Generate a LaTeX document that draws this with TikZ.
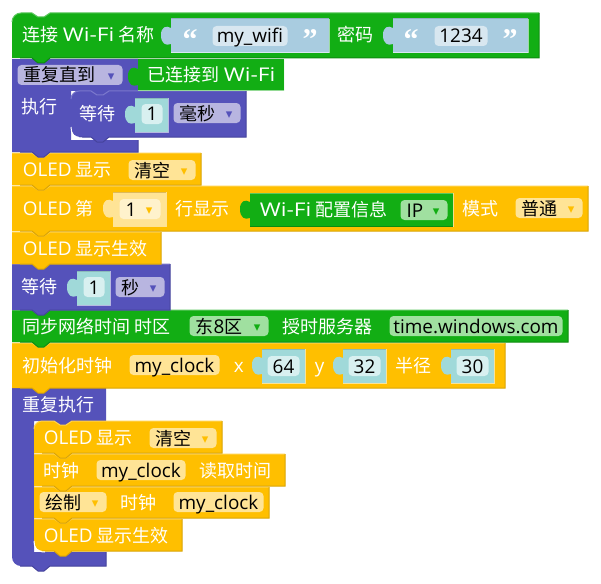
\documentclass[tikz,border=0pt]{standalone}
\usepackage{fontspec}
\usepackage{xcolor}
\setmainfont{Noto Sans CJK SC}
\newfontfamily\latnfont{Open Sans}[Scale=1.05]
\newfontfamily\widefont{Open Sans}[Scale=1.05,FakeStretch=1.2]
\newfontfamily\symfont{DejaVu Sans}
\newfontfamily\quotefont{Liberation Serif}
\newcommand{\lat}[1]{{\latnfont #1}}
\newcommand{\wifi}{{\widefont Wi-Fi}}

\definecolor{green}{HTML}{12AE14}
\definecolor{greenlight}{HTML}{5CC75E}
\definecolor{greendark}{HTML}{0E8C10}
\definecolor{greenfield}{HTML}{A0E0A0}
\definecolor{yellow}{HTML}{FFBF00}
\definecolor{yellowlight}{HTML}{FFD24D}
\definecolor{yellowdark}{HTML}{D9A406}
\definecolor{yellowfield}{HTML}{FFE496}
\definecolor{yellowpale}{HTML}{FFF2CC}
\definecolor{purple}{HTML}{5552BA}
\definecolor{purplelight}{HTML}{7A78CC}
\definecolor{purpledark}{HTML}{45439C}
\definecolor{purplefield}{HTML}{B8B5E0}
\definecolor{teal}{HTML}{A0D9D9}
\definecolor{tealfield}{HTML}{D8F0F0}
\definecolor{tealdark}{HTML}{8ABBBB}
\definecolor{blue}{HTML}{A9CCE0}
\definecolor{bluefield}{HTML}{D8E7F0}
\definecolor{bluedark}{HTML}{91B0C1}
\definecolor{yellowfielddark}{HTML}{DDB95A}

\tikzset{
  label/.style={text=white, anchor=west, inner sep=0pt, xshift=-0.7pt, text height=16pt, text depth=2pt},
  field/.style={anchor=west, inner sep=0pt, rounded corners=4pt, minimum height=20pt,
    text=black, text height=16pt, text depth=2pt, align=center},
  quote/.style={text=white, inner sep=0pt, font=\quotefont\bfseries\fontsize{30pt}{30pt}\selectfont},
}

% x0, y0, x1, y1, colour, top radius, bottom radius
\newcommand{\tile}[7]{
  \path[fill=#5] (#1,{#2+#6}) .. controls (#1,{#2+#6*0.45}) and ({#1+#6*0.45},#2) .. ({#1+#6},#2) -- ({#1+20},#2) -- ({#1+26},{#2+4})
    -- ({#1+32},{#2+4}) -- ({#1+38},#2) -- (#3,#2) -- (#3,#4) -- ({#1+38},#4) -- ({#1+32},{#4+5}) -- ({#1+26},{#4+5})
    -- ({#1+20},#4) -- ({#1+#7},#4) .. controls ({#1+#7*0.45},#4) and (#1,{#4-#7*0.45}) .. (#1,{#4-#7}) -- cycle;
  \draw[#5light] (#1,{#2+#6}) .. controls (#1,{#2+#6*0.45}) and ({#1+#6*0.45},#2) .. ({#1+#6},#2) -- ({#1+20},#2) -- ({#1+26},{#2+4})
    -- ({#1+32},{#2+4}) -- ({#1+38},#2) -- (#3,#2);
  \draw[#5dark] (#3,#2) -- (#3,#4) -- ({#1+38},#4) -- ({#1+32},{#4+5}) -- ({#1+26},{#4+5}) -- ({#1+20},#4) -- ({#1+8},#4);
}

% x0, y0, inner x, x1, header bottom, arm top, arm bottom, bottom radius
\newcommand{\loopblock}[8]{
  \path[fill=purple] (#1,#2) -- (#4,#2) -- (#4,#5) -- ({#3+38},#5) -- ({#3+32},{#5+5}) -- ({#3+26},{#5+5}) -- ({#3+20},#5)
    -- (#3,#5) -- (#3,#6) -- (#4,#6) -- (#4,#7) -- ({#1+38},#7) -- ({#1+32},{#7+5}) -- ({#1+26},{#7+5}) -- ({#1+20},#7)
    -- ({#1+#8},#7) .. controls ({#1+#8*0.45},#7) and (#1,{#7-#8*0.45}) .. (#1,{#7-#8}) -- cycle;
  \draw[purpledark] (#4,#6) -- (#4,#7) -- ({#1+38},#7) -- ({#1+32},{#7+5}) -- ({#1+26},{#7+5}) -- ({#1+20},#7) -- ({#1+8},#7);
}

% x0, y0, x1, y1, colour, colour of the top edge: a box with the tab on its left side
\newcommand{\tabbox}[6]{
  \path[fill=#5] (#1,#2) -- (#3,#2) -- (#3,#4) -- (#1,#4) -- (#1,{#2+25}) .. controls ({#1-5},{#2+27}) and ({#1-10},{#2+25}) .. ({#1-10},{#2+16})
    .. controls ({#1-10},{#2+8}) and ({#1-5},{#2+6}) .. (#1,{#2+9}) -- cycle;
  \draw[#6] (#1,#2) -- (#3,#2);
  \draw[white, opacity=0.55] (#3,#2) -- (#3,#4) -- (#1,#4);
}

% text, arrow colour
\newcommand{\dropdown}[2]{\hspace*{6pt}#1\hfill\raisebox{1.5pt}{\symfont\fontsize{13pt}{13pt}\selectfont\color{#2}▾}\hspace*{8pt}}

\begin{document}
\begin{tikzpicture}[x=1pt, y=-1pt, font=\fontsize{18pt}{20pt}\selectfont, line width=1pt]
  \useasboundingbox (0,0) rectangle (601,583);

  % the forever loop and what it holds
  \loopblock{12}{388}{34}{106}{421}{552}{566}{9}
  \tile{34}{519}{182}{551}{yellow}{0}{9}
  \tile{34}{487}{269}{518}{yellow}{0}{0}
  \tile{34}{454}{285}{486}{yellow}{0}{0}
  \tile{34}{421}{222}{453}{yellow}{8}{0}
  \draw[white] (34,541) .. controls (34,548) and (37,552) .. (45,552);

  \node[label] at (23,404) (foreverlabel) {重复执行};
  \node[label] at (44,437) (clearlabeltwo) {\lat{OLED} 显示};
  \node[field, fill=yellowfield, text width=67pt] at (149,438) (clearfieldtwo) {\dropdown{清空}{yellow}};
  \node[label] at (44,470) (clocklabel) {时钟};
  \node[field, fill=yellowfield, minimum width=89pt] at (96,470) (clockfield) {\lat{my\_clock}};
  \node[label] at (200,470) (readlabel) {读取时间};
  \node[field, fill=yellowfield, text width=67pt] at (39,502) (drawfield) {\dropdown{绘制}{yellow}};
  \node[label] at (121,502) (drawlabel) {时钟};
  \node[field, fill=yellowfield, minimum width=90pt] at (173,502) (drawclockfield) {\lat{my\_clock}};
  \node[label] at (44,535) (flushlabeltwo) {\lat{OLED} 显示生效};

  % clock set-up
  \tile{12}{343}{505}{388}{yellow}{0}{0}
  \node[label] at (23,365) (initlabel) {初始化时钟};
  \node[field, fill=yellowfield, minimum width=90pt] at (129,365) (initfield) {\lat{my\_clock}};
  \node[label] at (234,365) (xlabel) {\lat{x}};
  \tabbox{262}{349}{305}{383}{teal}{tealdark}
  \node[field, fill=tealfield, minimum width=32pt] at (267,366) (xfield) {\lat{64}};
  \node[label] at (315,365) (ylabel) {\lat{y}};
  \tabbox{343}{349}{386}{383}{teal}{tealdark}
  \node[field, fill=tealfield, minimum width=32pt] at (348,366) (yfield) {\lat{32}};
  \node[label] at (396,365) (radiuslabel) {半径};
  \tabbox{451}{349}{494}{383}{teal}{tealdark}
  \node[field, fill=tealfield, minimum width=32pt] at (456,366) (radiusfield) {\lat{30}};

  \tile{12}{310}{568}{342}{green}{0}{0}
  \node[label] at (23,326) (synclabel) {同步网络时间 时区};
  \node[field, fill=greenfield, text width=79pt] at (189,326) (zonefield) {\dropdown{东\lat{8}区}{green}};
  \node[label] at (283,326) (serverlabel) {授时服务器};
  \node[field, fill=greenfield, minimum width=173pt] at (389,326) (serverfield) {\lat{time.windows.com}};

  \tile{12}{264}{170}{310}{purple}{0}{0}
  \node[label] at (22,286) (waitlabeltwo) {等待};
  \tabbox{77}{271}{110}{305}{teal}{tealdark}
  \node[field, fill=tealfield, minimum width=21pt] at (83,287) (waitfieldtwo) {\lat{1}};
  \node[field, fill=purplefield, text width=49pt] at (115,287) (secondfield) {\dropdown{秒}{purple}};

  % OLED lines
  \tile{12}{232}{161}{264}{yellow}{0}{0}
  \node[label] at (23,248) (flushlabel) {\lat{OLED} 显示生效};

  \tile{12}{186}{588}{231}{yellow}{0}{0}
  \node[label] at (23,208) (linelabel) {\lat{OLED} 第};
  \tabbox{113}{192}{166}{226}{yellowfield}{yellowfielddark}
  \node[field, fill=yellowpale, text width=41pt] at (119,209) (linefield) {\dropdown{\lat{1}}{yellow}};
  \node[label] at (176,208) (showlabel) {行显示};
  \tabbox{250}{193}{453}{226}{green}{greenlight}
  \draw[greendark] (250,226) -- (453,226);
  \node[label] at (260,209) (infolabel) {\wifi{} 配置信息};
  \node[field, fill=greenfield, text width=47pt] at (400,210) (ipfield) {\dropdown{\lat{IP}}{green}};
  \node[label] at (463,208) (modelabel) {模式};
  \node[field, fill=yellowfield, text width=67pt] at (515,208) (modefield) {\dropdown{普通}{yellow}};

  \tile{12}{153}{201}{185}{yellow}{0}{0}
  \node[label] at (23,169) (clearlabel) {\lat{OLED} 显示};
  \node[field, fill=yellowfield, text width=67pt] at (128,170) (clearfield) {\dropdown{清空}{yellow}};

  % the repeat-until loop and its condition
  \loopblock{12}{59}{71}{138}{91}{140}{152}{0}
  \tile{71}{91}{246}{137}{purple}{8}{9}
  \draw[white] (71,127) .. controls (71,134) and (74,138) .. (82,138);
  \node[label] at (22,106) (dolabel) {执行};
  \node[label] at (80,113) (waitlabel) {等待};
  \tabbox{135}{98}{168}{132}{teal}{tealdark}
  \node[field, fill=tealfield, minimum width=21pt] at (141,114) (waitfield) {\lat{1}};
  \node[field, fill=purplefield, text width=67pt] at (173,113) (msfield) {\dropdown{毫秒}{purple}};
  \node[field, fill=purplefield, text width=105pt] at (17,75) (untilfield) {\dropdown{重复直到}{purple}};
  \tabbox{138}{60}{284}{91}{green}{green}
  \node[label] at (148,75) (connectedlabel) {已连接到 \wifi};

  % connect to the network
  \tile{12}{13}{539}{58}{green}{9}{0}
  \node[label] at (23,35) (connectlabel) {连接 \wifi{} 名称};
  \tabbox{171}{19}{329}{53}{blue}{bluedark}
  \node[quote] at (190,40) (nameopen) {“};
  \node[field, fill=bluefield, minimum width=75pt] at (212,36) (namefield) {\lat{my\_wifi}};
  \node[quote] at (310,40) (nameclose) {”};
  \node[label] at (338,35) (passlabel) {密码};
  \tabbox{393}{19}{528}{53}{blue}{bluedark}
  \node[quote] at (411,40) (passopen) {“};
  \node[field, fill=bluefield, minimum width=53pt] at (434,36) (passfield) {\lat{1234}};
  \node[quote] at (510,40) (passclose) {”};
\end{tikzpicture}
\end{document}
